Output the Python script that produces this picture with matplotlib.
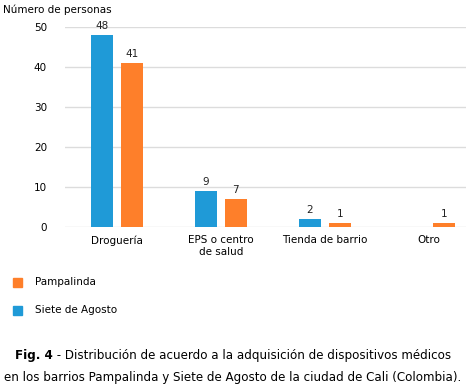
import matplotlib
matplotlib.use("Agg")
import matplotlib.pyplot as plt
import numpy as np

categories = ["Droguería", "EPS o centro\nde salud", "Tienda de barrio", "Otro"]
siete = [48, 9, 2, 0]
pampa = [41, 7, 1, 1]
yticks = [0, 10, 20, 30, 40, 50]

blue = '#1f9ad7'
orange = '#fe7f2a'

plt.rcParams['font.family'] = 'DejaVu Sans'
fig = plt.figure(figsize=(4.66, 3.86), dpi=100)
W, H = 466, 386
ax = fig.add_axes([65/W, 1-227/H, (466-65)/W, 200/H])

x = np.arange(len(categories))
off = 0.145
bw = 0.21
ax.bar(x - off, siete, bw, color=blue)
ax.bar(x + off, pampa, bw, color=orange)
for xi, v in zip(x, siete):
    if v > 0:
        ax.text(xi - off, v + 1.0, str(v), ha='center', va='bottom', fontsize=7.5, color='#222222')
for xi, v in zip(x, pampa):
    ax.text(xi + off, v + 1.0, str(v), ha='center', va='bottom', fontsize=7.5, color='#222222')

ax.set_xlim(-0.5, 3.36)
ax.set_ylim(0, 50)
ax.set_yticks(yticks)
ax.set_xticks(x)
ax.set_xticklabels(categories, fontsize=7.5, linespacing=1.25)
ax.tick_params(axis='y', length=0, pad=13, labelsize=7.5)
ax.tick_params(axis='x', length=0, pad=6)
for s in ax.spines.values():
    s.set_visible(False)
ax.grid(axis='y', color='#dcdcdc', linewidth=1)
ax.set_axisbelow(True)

fig.text(3/W, 1-10/H, "Número de personas", fontsize=7.5, va='center', ha='left')

# legend
fig.patches.append(plt.Rectangle((13/W, 1-287/H), 9/W, 9/H, color=orange, transform=fig.transFigure))
fig.text(35/W, 1-282/H, "Pampalinda", fontsize=7.5, va='center')
fig.patches.append(plt.Rectangle((13/W, 1-315/H), 9/W, 9/H, color=blue, transform=fig.transFigure))
fig.text(35/W, 1-310/H, "Siete de Agosto", fontsize=7.5, va='center')

# caption
cap_bold = "Fig. 4"
cap_rest = " - Distribución de acuerdo a la adquisición de dispositivos médicos"
cap2 = "en los barrios Pampalinda y Siete de Agosto de la ciudad de Cali (Colombia)."
fs = 8.6
r = fig.canvas.get_renderer()
t1 = fig.text(0, 1-356/H, cap_bold, fontsize=fs, fontweight='bold', va='center')
t2 = fig.text(0, 1-356/H, cap_rest, fontsize=fs, va='center')
w1 = t1.get_window_extent(r).width
w2 = t2.get_window_extent(r).width
x0 = (W - w1 - w2) / 2
t1.set_x(x0 / W)
t2.set_x((x0 + w1) / W)
fig.text(0.5, 1-377/H, cap2, fontsize=fs, va='center', ha='center')

fig.savefig("out.png", dpi=100)
